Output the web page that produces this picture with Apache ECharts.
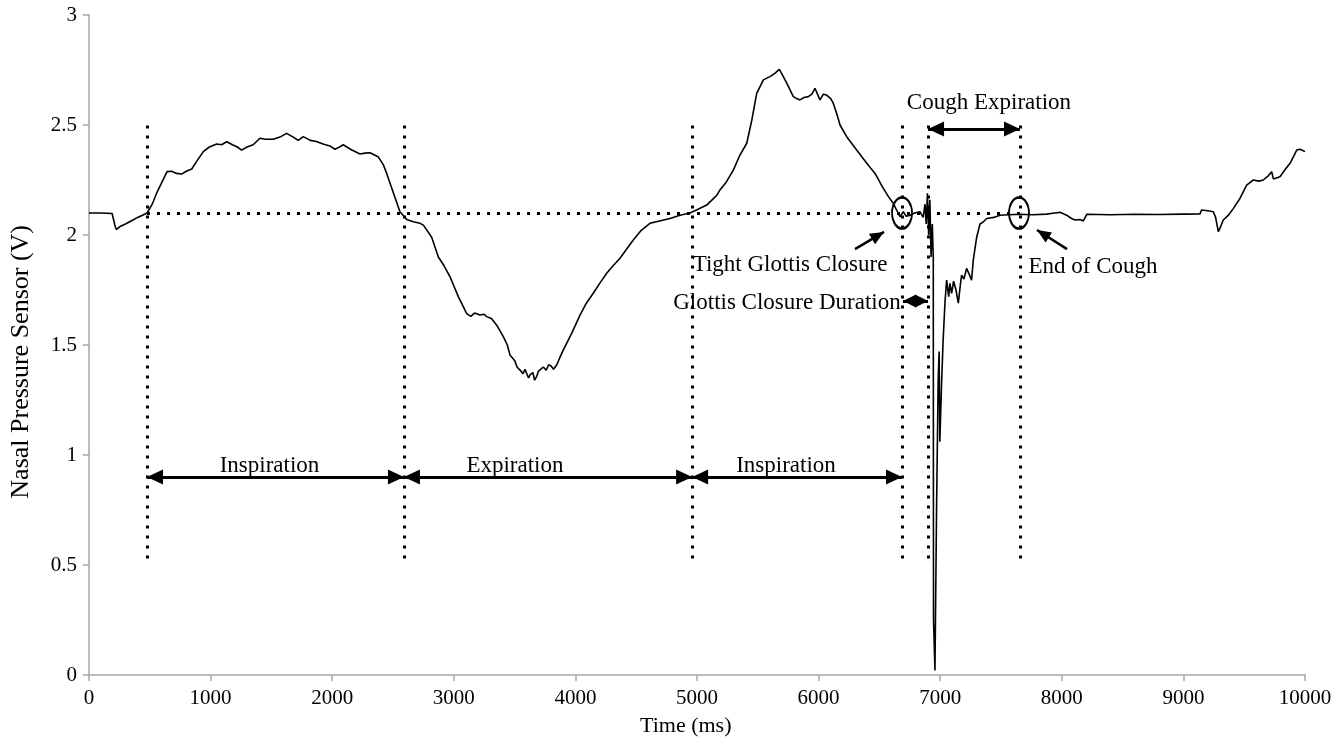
<!DOCTYPE html>
<html>
<head>
<meta charset="utf-8">
<title>Nasal pressure cough trace</title>
<script src="https://cdn.jsdelivr.net/npm/echarts@6/dist/echarts.min.js"></script>
<style>
html, body { margin: 0; padding: 0; background: #fff; }
#chart { width: 1344px; height: 739px; }
</style>
</head>
<body>
<div id="chart"></div>
<script>
// nasal pressure trace
const timeMs = [
    0, 100, 190, 200, 215, 225, 260, 300, 350, 400, 440, 477, 520, 556, 600, 642, 680, 720, 762, 800,
    845, 880, 940, 990, 1050, 1090, 1132, 1180, 1220, 1255, 1300, 1350, 1406, 1450, 1515, 1570, 1625, 1680, 1720, 1762,
    1820, 1870, 1925, 1980, 2023, 2060, 2091, 2150, 2228, 2270, 2311, 2377, 2420, 2448, 2500, 2557, 2590, 2612, 2667, 2722,
    2750, 2818, 2873, 2920, 2969, 3037, 3106, 3140, 3170, 3215, 3250, 3270, 3310, 3353, 3407, 3440, 3462, 3500, 3520, 3544,
    3570, 3585, 3600, 3615, 3627, 3650, 3665, 3681, 3695, 3710, 3736, 3760, 3780, 3800, 3820, 3846, 3870, 3900, 3969, 4038,
    4090, 4147, 4200, 4257, 4310, 4367, 4420, 4476, 4540, 4613, 4700, 4778, 4860, 4942, 5000, 5080, 5162, 5189, 5240, 5299,
    5350, 5409, 5450, 5491, 5546, 5600, 5640, 5677, 5700, 5738, 5792, 5820, 5847, 5880, 5916, 5945, 5970, 6011, 6040, 6066,
    6100, 6121, 6150, 6176, 6231, 6313, 6396, 6464, 6532, 6580, 6614, 6669, 6697, 6720, 6752, 6790, 6834, 6860, 6875, 6885,
    6895, 6905, 6915, 6925, 6935, 6943, 6945, 6957, 6965, 6970, 6983, 6991, 6997, 7011, 7024, 7040, 7053, 7070, 7080, 7094,
    7110, 7130, 7149, 7165, 7176, 7195, 7217, 7240, 7258, 7272, 7300, 7327, 7355, 7382, 7440, 7492, 7560, 7656, 7760, 7875,
    7940, 7985, 8040, 8080, 8109, 8150, 8177, 8205, 8400, 8600, 8800, 9000, 9137, 9150, 9200, 9246, 9265, 9287, 9300, 9328,
    9370, 9410, 9465, 9520, 9575, 9620, 9657, 9700, 9726, 9740, 9753, 9794, 9840, 9877, 9932, 9960, 9973, 10000
];
const pressureV = [
    2.10, 2.10, 2.098, 2.09, 2.04, 2.025, 2.04, 2.05, 2.065, 2.08, 2.09, 2.10, 2.14, 2.19, 2.24, 2.288, 2.29, 2.28, 2.277, 2.29,
    2.30, 2.33, 2.379, 2.40, 2.414, 2.41, 2.424, 2.41, 2.40, 2.386, 2.40, 2.41, 2.44, 2.435, 2.435, 2.445, 2.462, 2.445, 2.43, 2.447,
    2.43, 2.425, 2.414, 2.405, 2.39, 2.40, 2.41, 2.39, 2.368, 2.372, 2.374, 2.356, 2.32, 2.28, 2.197, 2.106, 2.085, 2.071, 2.06, 2.053,
    2.045, 1.99, 1.90, 1.86, 1.81, 1.72, 1.643, 1.63, 1.645, 1.636, 1.64, 1.629, 1.62, 1.59, 1.538, 1.50, 1.455, 1.43, 1.40, 1.386,
    1.37, 1.39, 1.385, 1.35, 1.364, 1.375, 1.34, 1.356, 1.38, 1.38, 1.40, 1.385, 1.41, 1.405, 1.39, 1.409, 1.44, 1.477, 1.553, 1.636,
    1.69, 1.735, 1.78, 1.826, 1.86, 1.894, 1.935, 1.977, 2.02, 2.053, 2.065, 2.075, 2.09, 2.10, 2.115, 2.136, 2.18, 2.205, 2.24, 2.295,
    2.36, 2.417, 2.52, 2.644, 2.705, 2.72, 2.735, 2.753, 2.73, 2.69, 2.629, 2.62, 2.614, 2.625, 2.629, 2.64, 2.667, 2.614, 2.64, 2.636,
    2.62, 2.598, 2.55, 2.50, 2.447, 2.386, 2.326, 2.28, 2.212, 2.17, 2.144, 2.083, 2.106, 2.085, 2.09, 2.10, 2.106, 2.08, 2.14, 2.05,
    2.19, 2.0, 2.16, 1.9, 2.05, 1.9, 0.25, 0.02, 0.02, 0.75, 1.33, 1.47, 1.06, 1.32, 1.52, 1.70, 1.795, 1.72, 1.78, 1.735,
    1.79, 1.75, 1.69, 1.77, 1.818, 1.80, 1.848, 1.82, 1.795, 1.886, 1.99, 2.05, 2.06, 2.075, 2.08, 2.09, 2.092, 2.094, 2.092, 2.095,
    2.10, 2.103, 2.09, 2.075, 2.068, 2.07, 2.064, 2.094, 2.092, 2.094, 2.093, 2.095, 2.096, 2.114, 2.11, 2.106, 2.08, 2.015, 2.03, 2.068,
    2.09, 2.12, 2.166, 2.227, 2.25, 2.245, 2.25, 2.27, 2.288, 2.255, 2.25, 2.265, 2.30, 2.326, 2.386, 2.39, 2.394, 2.379
];

// axis ticks
const xTicks = [0, 1000, 2000, 3000, 4000, 5000, 6000, 7000, 8000, 9000, 10000];
const yTicks = [0, 0.5, 1, 1.5, 2, 2.5, 3];

// annotations
const guideTimes = [477, 2590, 4960, 6686, 6900, 7656];
const guideRange = [0.53, 2.52];
const baseline = { v: 2.1, from: 477, to: 7656 };
const phaseBounds = [477, 2590, 4960, 6686];
const phaseArrowV = 0.9;
const phaseLabels = ['Inspiration', 'Expiration', 'Inspiration'];
const phaseLabelTimes = [1484, 3503, 5732];
const phaseLabelV = 0.948;
const coughSpan = [6900, 7656];
const coughArrowV = 2.482;
const closureSpan = [6694, 6900];
const closureV = 1.70;
const circleCentres = [[6686, 2.1], [7648, 2.1]];
const pointerArrows = [
    [[6299, 1.936], [6538, 2.014]],
    [[8043, 1.936], [7796, 2.023]]
];
const notes = [
    ['Cough Expiration', 7401, 2.60, 'center'],
    ['Tight Glottis Closure', 5765, 1.864, 'center'],
    ['End of Cough', 8257, 1.855, 'center'],
    ['Glottis Closure Duration', 6675, 1.69, 'right']
];

const serif = 'Liberation Serif, Times New Roman, serif';
const axisGrey = '#a6a6a6';

let chart = echarts.init(document.getElementById('chart'), null, { renderer: 'canvas' });

let dotted = { color: '#000', width: 3, type: [3, 7], cap: 'butt' };
let arrowLine = { color: '#000', width: 3, type: 'solid' };

// triangle head whose tip sits on the end point
function head(size) {
    return { symbol: 'triangle', symbolSize: size, symbolOffset: [0, size[1] / 2] };
}

let markLines = [];
guideTimes.forEach(t => {
    markLines.push([
        { coord: [t, guideRange[0]], symbol: 'none', lineStyle: dotted },
        { coord: [t, guideRange[1]], symbol: 'none' }
    ]);
});
markLines.push([
    { coord: [baseline.from, baseline.v], symbol: 'none', lineStyle: dotted },
    { coord: [baseline.to, baseline.v], symbol: 'none' }
]);
for (let i = 0; i < phaseBounds.length - 1; i++) {
    markLines.push([
        Object.assign({ coord: [phaseBounds[i], phaseArrowV], lineStyle: arrowLine }, head([15, 16])),
        Object.assign({ coord: [phaseBounds[i + 1], phaseArrowV] }, head([15, 16]))
    ]);
}
markLines.push([
    Object.assign({ coord: [coughSpan[0], coughArrowV], lineStyle: arrowLine }, head([15, 16])),
    Object.assign({ coord: [coughSpan[1], coughArrowV] }, head([15, 16]))
]);
markLines.push([
    Object.assign({ coord: [closureSpan[0], closureV], lineStyle: arrowLine }, head([13, 13])),
    Object.assign({ coord: [closureSpan[1], closureV] }, head([13, 13]))
]);
pointerArrows.forEach(a => {
    markLines.push([
        { coord: a[0], symbol: 'none', lineStyle: { color: '#000', width: 2.5, type: 'solid' } },
        Object.assign({ coord: a[1] }, head([12, 14]))
    ]);
});

let labelItems = [];
phaseLabels.forEach((name, i) => {
    labelItems.push({ value: [phaseLabelTimes[i], phaseLabelV], name: name, label: { align: 'center' } });
});
notes.forEach(n => {
    labelItems.push({ value: [n[1], n[2]], name: n[0], label: { align: n[3] } });
});

chart.setOption({
    animation: false,
    backgroundColor: '#fff',
    grid: { left: 89, right: 39, top: 15, bottom: 64, containLabel: false },
    xAxis: {
        type: 'value',
        min: xTicks[0],
        max: xTicks[xTicks.length - 1],
        interval: 1000,
        axisLine: { show: true, lineStyle: { color: axisGrey, width: 1.5 } },
        axisTick: { show: true, inside: false, length: 6, lineStyle: { color: axisGrey, width: 1.5 } },
        axisLabel: { color: '#000', fontFamily: serif, fontSize: 21, margin: 13, formatter: v => String(v) },
        splitLine: { show: false }
    },
    yAxis: {
        type: 'value',
        min: yTicks[0],
        max: yTicks[yTicks.length - 1],
        interval: 0.5,
        axisLine: { show: true, lineStyle: { color: axisGrey, width: 1.5 } },
        axisTick: { show: true, inside: false, length: 6, lineStyle: { color: axisGrey, width: 1.5 } },
        axisLabel: { color: '#000', fontFamily: serif, fontSize: 21, margin: 12, formatter: v => String(v) },
        splitLine: { show: false }
    },
    graphic: [
        {
            type: 'text', left: 8, top: 225,
            rotation: Math.PI / 2,
            style: { text: 'Nasal Pressure Sensor (V)', fontFamily: serif, fontSize: 26, fill: '#000' }
        },
        {
            type: 'text', left: 640, top: 715,
            style: { text: 'Time (ms)', fontFamily: serif, fontSize: 22, fill: '#000' }
        }
    ],
    series: [
        {
            name: 'Nasal pressure',
            type: 'line',
            data: timeMs.map((t, i) => [t, pressureV[i]]),
            showSymbol: false,
            lineStyle: { color: '#000', width: 1.6 },
            z: 3,
            markLine: {
                silent: true,
                symbol: 'none',
                label: { show: false },
                emphasis: { disabled: true },
                data: markLines
            }
        },
        {
            name: 'circles',
            type: 'scatter',
            data: circleCentres,
            symbol: 'circle',
            symbolSize: [20, 31],
            itemStyle: { color: 'rgba(0,0,0,0)', borderColor: '#000', borderWidth: 2.2, opacity: 1 },
            silent: true,
            z: 4
        },
        {
            name: 'labels',
            type: 'scatter',
            data: labelItems,
            symbolSize: 0,
            silent: true,
            itemStyle: { opacity: 1 },
            label: {
                show: true,
                position: 'inside',
                formatter: p => p.name,
                color: '#000',
                fontFamily: serif,
                fontSize: 23
            },
            z: 5
        }
    ]
});
</script>
</body>
</html>
